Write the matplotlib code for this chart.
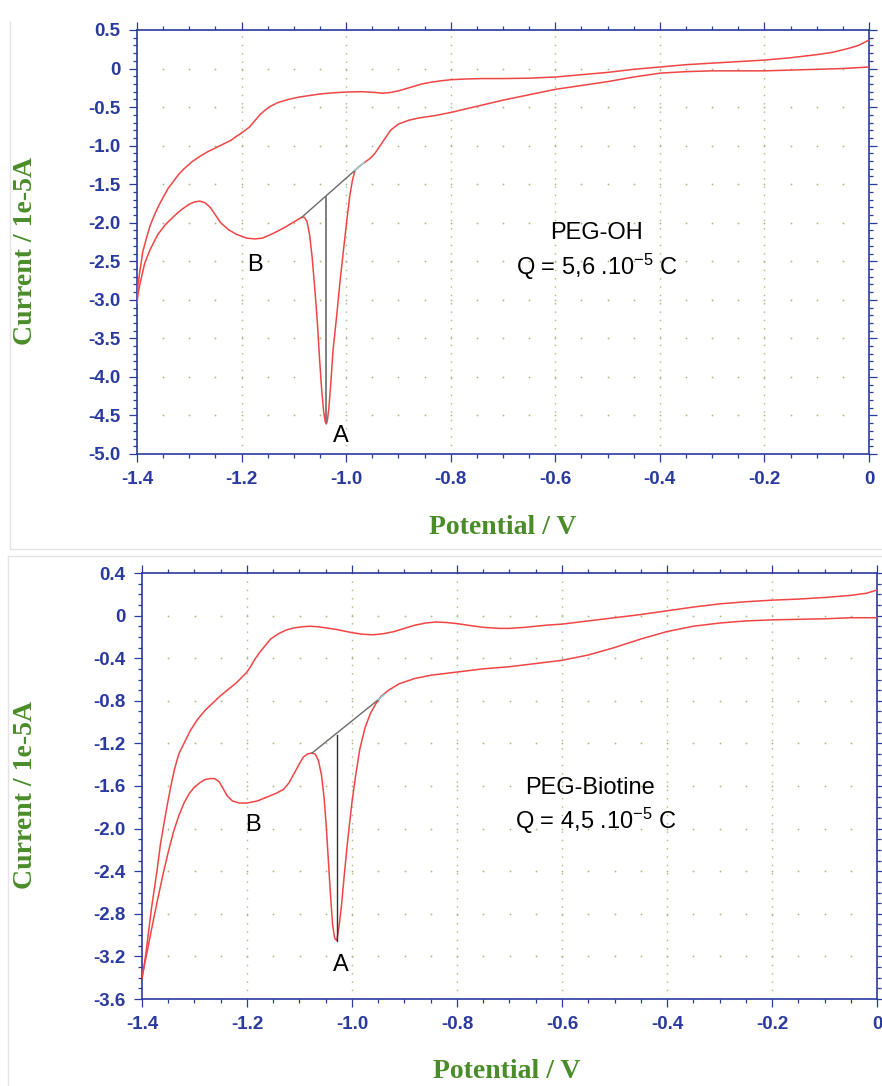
import matplotlib
matplotlib.use("Agg")
import matplotlib.pyplot as plt
from matplotlib.ticker import FixedLocator, FixedFormatter, MultipleLocator
from matplotlib.lines import Line2D
import numpy as np

plt.rcParams['axes.unicode_minus'] = False
plt.rcParams['mathtext.fontset'] = 'custom'
plt.rcParams['mathtext.rm'] = 'Liberation Sans'
plt.rcParams['mathtext.default'] = 'regular'

# ---------------- data : PEG-OH (top panel) ----------------
oh_cath_v = [0.0, -0.05, -0.10, -0.15, -0.20, -0.25, -0.30, -0.35, -0.40, -0.45,
             -0.50, -0.55, -0.60, -0.65, -0.70, -0.75, -0.80, -0.83, -0.86, -0.88,
             -0.90, -0.915, -0.93, -0.945, -0.955, -0.965, -0.975, -0.983, -0.988, -0.993,
             -0.998, -1.005, -1.012, -1.018, -1.025, -1.029, -1.033, -1.036, -1.038, -1.040,
             -1.043, -1.047, -1.051, -1.055, -1.060, -1.065, -1.070, -1.075, -1.080, -1.085,
             -1.095, -1.105, -1.12, -1.14, -1.16, -1.175, -1.19, -1.21, -1.225, -1.24,
             -1.25, -1.26, -1.27, -1.28, -1.29, -1.30, -1.315, -1.33, -1.345, -1.36,
             -1.375, -1.385, -1.393, -1.398, -1.40]
oh_cath_i = [0.02, 0.00, -0.01, -0.02, -0.03, -0.03, -0.03, -0.04, -0.06, -0.11,
             -0.17, -0.22, -0.27, -0.34, -0.41, -0.49, -0.57, -0.61, -0.64, -0.67,
             -0.72, -0.80, -0.95, -1.10, -1.17, -1.22, -1.27, -1.32, -1.45, -1.65,
             -1.93, -2.35, -2.78, -3.20, -3.65, -4.05, -4.40, -4.57, -4.61, -4.58,
             -4.45, -4.15, -3.75, -3.30, -2.85, -2.45, -2.15, -1.98, -1.93, -1.93,
             -1.97, -2.01, -2.07, -2.14, -2.20, -2.21, -2.20, -2.15, -2.09, -2.00,
             -1.90, -1.80, -1.74, -1.72, -1.73, -1.76, -1.83, -1.92, -2.02, -2.15,
             -2.35, -2.52, -2.75, -2.92, -3.04]
oh_anod_v = [-1.40, -1.398, -1.395, -1.389, -1.382, -1.375, -1.368, -1.36, -1.35, -1.34,
             -1.33, -1.32, -1.31, -1.295, -1.28, -1.265, -1.25, -1.235, -1.22, -1.21,
             -1.203, -1.195, -1.185, -1.175, -1.165, -1.155, -1.145, -1.13, -1.11, -1.09,
             -1.07, -1.05, -1.025, -1.00, -0.97, -0.945, -0.93, -0.915, -0.90, -0.885,
             -0.87, -0.855, -0.84, -0.82, -0.80, -0.77, -0.74, -0.70, -0.65, -0.60,
             -0.55, -0.50, -0.45, -0.40, -0.35, -0.30, -0.25, -0.20, -0.15, -0.10,
             -0.07, -0.04, -0.02, 0.0]
oh_anod_i = [-3.04, -2.80, -2.65, -2.38, -2.20, -2.04, -1.92, -1.80, -1.67, -1.55,
             -1.46, -1.37, -1.30, -1.21, -1.14, -1.08, -1.03, -0.98, -0.93, -0.88,
             -0.85, -0.81, -0.76, -0.68, -0.60, -0.54, -0.49, -0.44, -0.40, -0.37,
             -0.35, -0.33, -0.315, -0.305, -0.30, -0.31, -0.32, -0.31, -0.29, -0.26,
             -0.23, -0.20, -0.18, -0.16, -0.145, -0.135, -0.13, -0.13, -0.125, -0.11,
             -0.08, -0.05, -0.01, 0.02, 0.05, 0.07, 0.09, 0.11, 0.14, 0.18,
             0.21, 0.26, 0.30, 0.37]
oh_base_v = [-1.085, -0.983]
oh_base_i = [-1.93, -1.32]
oh_base_ext_v = [-0.983, -0.966]
oh_base_ext_i = [-1.32, -1.22]
oh_peak_v = [-1.038, -1.038]
oh_peak_i = [-1.66, -4.57]

# ---------------- data : PEG-Biotine (bottom panel) ----------------
bt_cath_v = [0.0, -0.05, -0.10, -0.15, -0.20, -0.25, -0.30, -0.35, -0.40, -0.45,
             -0.50, -0.55, -0.60, -0.65, -0.70, -0.75, -0.80, -0.85, -0.88, -0.91,
             -0.93, -0.945, -0.955, -0.965, -0.975, -0.985, -0.993, -1.000, -1.008, -1.015,
             -1.020, -1.025, -1.029, -1.033, -1.037, -1.041, -1.045, -1.049, -1.053, -1.058,
             -1.064, -1.070, -1.077, -1.085, -1.093, -1.10, -1.11, -1.12, -1.13, -1.145,
             -1.16, -1.18, -1.20, -1.215, -1.228, -1.238, -1.246, -1.253, -1.262, -1.27,
             -1.28, -1.29, -1.30, -1.31, -1.32, -1.33, -1.34, -1.35, -1.36, -1.37,
             -1.38, -1.39, -1.397, -1.40]
bt_cath_i = [-0.02, -0.02, -0.03, -0.035, -0.04, -0.05, -0.07, -0.10, -0.15, -0.22,
             -0.30, -0.37, -0.42, -0.45, -0.48, -0.50, -0.53, -0.56, -0.59, -0.64,
             -0.70, -0.76, -0.83, -0.92, -1.05, -1.25, -1.50, -1.75, -2.10, -2.45,
             -2.72, -2.93, -3.05, -3.03, -2.90, -2.62, -2.30, -1.98, -1.72, -1.50,
             -1.36, -1.30, -1.29, -1.30, -1.33, -1.39, -1.48, -1.57, -1.63, -1.67,
             -1.70, -1.74, -1.76, -1.76, -1.74, -1.69, -1.62, -1.56, -1.53, -1.53,
             -1.54, -1.57, -1.61, -1.67, -1.76, -1.88, -2.03, -2.22, -2.43, -2.66,
             -2.90, -3.15, -3.32, -3.40]
bt_anod_v = [-1.40, -1.397, -1.392, -1.387, -1.382, -1.376, -1.371, -1.365, -1.358, -1.352,
             -1.345, -1.338, -1.33, -1.32, -1.308, -1.295, -1.28, -1.265, -1.25, -1.235,
             -1.22, -1.21, -1.20, -1.192, -1.185, -1.175, -1.165, -1.155, -1.14, -1.125,
             -1.11, -1.095, -1.08, -1.065, -1.05, -1.03, -1.00, -0.98, -0.96, -0.94,
             -0.92, -0.90, -0.88, -0.86, -0.84, -0.82, -0.80, -0.78, -0.75, -0.72,
             -0.70, -0.67, -0.63, -0.60, -0.55, -0.50, -0.45, -0.40, -0.35, -0.30,
             -0.25, -0.20, -0.15, -0.10, -0.05, -0.02, 0.0]
bt_anod_i = [-3.40, -3.32, -3.15, -2.95, -2.75, -2.55, -2.38, -2.15, -1.95, -1.78,
             -1.60, -1.44, -1.30, -1.20, -1.08, -0.98, -0.89, -0.82, -0.75, -0.69,
             -0.63, -0.58, -0.53, -0.47, -0.41, -0.34, -0.28, -0.22, -0.17, -0.135,
             -0.115, -0.105, -0.10, -0.105, -0.115, -0.13, -0.16, -0.175, -0.18, -0.17,
             -0.15, -0.12, -0.09, -0.07, -0.06, -0.065, -0.075, -0.09, -0.11, -0.12,
             -0.12, -0.11, -0.09, -0.08, -0.05, -0.02, 0.01, 0.045, 0.08, 0.11,
             0.13, 0.145, 0.155, 0.17, 0.19, 0.21, 0.24]
bt_base_v = [-1.076, -0.950]
bt_base_i = [-1.29, -0.79]
bt_base_ext_v = [-0.950, -0.938]
bt_base_ext_i = [-0.79, -0.74]
bt_peak_v = [-1.029, -1.029]
bt_peak_i = [-1.12, -3.06]

# ticks / labels
x_ticks = [-1.4, -1.2, -1.0, -0.8, -0.6, -0.4, -0.2, 0.0]
x_ticklabels = ['-1.4', '-1.2', '-1.0', '-0.8', '-0.6', '-0.4', '-0.2', '0']
top_yticks = [0.5, 0.0, -0.5, -1.0, -1.5, -2.0, -2.5, -3.0, -3.5, -4.0, -4.5, -5.0]
top_yticklabels = ['0.5', '0', '-0.5', '-1.0', '-1.5', '-2.0', '-2.5', '-3.0', '-3.5', '-4.0', '-4.5', '-5.0']
bot_yticks = [0.4, 0.0, -0.4, -0.8, -1.2, -1.6, -2.0, -2.4, -2.8, -3.2, -3.6]
bot_yticklabels = ['0.4', '0', '-0.4', '-0.8', '-1.2', '-1.6', '-2.0', '-2.4', '-2.8', '-3.2', '-3.6']

top_name = 'PEG-OH'
top_q = r'Q = 5,6 .10$^{-5}$ C'
bot_name = 'PEG-Biotine'
bot_q = r'Q = 4,5 .10$^{-5}$ C'
xlabel = 'Potential / V'
ylabel = 'Current / 1e-5A'

# ---------------- styling ----------------
W, H = 882, 1086
fig = plt.figure(figsize=(W / 100, H / 100), dpi=100)
fig.patch.set_facecolor('white')

AXC = '#2a3a9e'
RED = '#f04545'
GRIDC = '#a7b987'
GREEN = '#4a8c2a'
GRAY = '#6a6a6a'
CYAN = '#7fd8d8'


def box(l, r, t, b):
    return [l / W, 1 - b / H, (r - l) / W, (b - t) / H]


def style_axes(ax, xlim, ylim, yticks, yticklabels, yminor):
    ax.set_xlim(*xlim)
    ax.set_ylim(*ylim)
    ax.xaxis.set_major_locator(FixedLocator(x_ticks))
    ax.xaxis.set_major_formatter(FixedFormatter(x_ticklabels))
    ax.xaxis.set_minor_locator(MultipleLocator(0.05))
    ax.yaxis.set_major_locator(FixedLocator(yticks))
    ax.yaxis.set_major_formatter(FixedFormatter(yticklabels))
    ax.yaxis.set_minor_locator(MultipleLocator(yminor))
    for s in ax.spines.values():
        s.set_color(AXC)
        s.set_linewidth(1.2)
    ax.tick_params(which='both', direction='out', top=True, right=True,
                   labeltop=False, labelright=False, color=AXC, width=0.9)
    ax.tick_params(which='major', length=6, pad=6)
    ax.tick_params(which='minor', length=3)
    for lab in ax.get_xticklabels() + ax.get_yticklabels():
        lab.set_fontfamily('Liberation Sans')
        lab.set_fontweight('bold')
        lab.set_fontsize(13.5)
        lab.set_color(AXC)
    # grid: dotted vertical lines at major x, dot rows at major y
    for xv in x_ticks[1:-1]:
        ax.axvline(xv, color=GRIDC, lw=1.0, ls=(0, (1, 5)), zorder=0)
    xm = np.arange(-1.4, 0.0001, 0.05)[1:-1]
    for yv in yticks[1:-1]:
        ax.plot(xm, np.full_like(xm, yv), ls='none', marker='o', ms=1.3,
                mec='none', mfc=GRIDC, zorder=0)


# ---- top panel ----
ax1 = fig.add_axes(box(137, 869, 30, 454))
style_axes(ax1, (-1.4, 0.0), (-5.0, 0.5), top_yticks, top_yticklabels, 0.1)
ax1.plot(oh_cath_v, oh_cath_i, color=RED, lw=1.1, zorder=3)
ax1.plot(oh_anod_v, oh_anod_i, color=RED, lw=1.1, zorder=3)
ax1.plot(oh_base_v, oh_base_i, color=GRAY, lw=1.0, zorder=4)
ax1.plot(oh_base_ext_v, oh_base_ext_i, color=CYAN, lw=1.0, zorder=4)
ax1.plot(oh_peak_v, oh_peak_i, color=GRAY, lw=1.2, zorder=4)
ax1.text(-1.174, -2.55, 'B', fontsize=17, family='Liberation Sans', ha='center', va='center')
ax1.text(-1.010, -4.77, 'A', fontsize=17, family='Liberation Sans', ha='center', va='center')
ax1.text(-0.522, -2.13, top_name, fontsize=17, family='Liberation Sans', ha='center', va='center')
ax1.text(-0.520, -2.57, top_q, fontsize=17, family='Liberation Sans', ha='center', va='center')

# ---- bottom panel ----
ax2 = fig.add_axes(box(142, 877, 573, 999))
style_axes(ax2, (-1.4, 0.0), (-3.6, 0.4), bot_yticks, bot_yticklabels, 0.1)
ax2.plot(bt_cath_v, bt_cath_i, color=RED, lw=1.1, zorder=3)
ax2.plot(bt_anod_v, bt_anod_i, color=RED, lw=1.1, zorder=3)
ax2.plot(bt_base_v, bt_base_i, color=GRAY, lw=1.0, zorder=4)
ax2.plot(bt_base_ext_v, bt_base_ext_i, color=CYAN, lw=1.0, zorder=4)
ax2.plot(bt_peak_v, bt_peak_i, color='#303030', lw=1.0, zorder=4)
ax2.text(-1.188, -1.97, 'B', fontsize=17, family='Liberation Sans', ha='center', va='center')
ax2.text(-1.022, -3.28, 'A', fontsize=17, family='Liberation Sans', ha='center', va='center')
ax2.text(-0.546, -1.62, bot_name, fontsize=17, family='Liberation Sans', ha='center', va='center')
ax2.text(-0.535, -1.93, bot_q, fontsize=17, family='Liberation Sans', ha='center', va='center')

# axis titles
lab_kw = dict(fontsize=20, fontweight='bold', family='Liberation Serif', color=GREEN)
fig.text(503 / W, 1 - 528 / H, xlabel, ha='center', va='center', **lab_kw)
fig.text(507 / W, 1 - 1072 / H, xlabel, ha='center', va='center', **lab_kw)
fig.text(26 / W, 1 - 251 / H, ylabel, ha='center', va='center', rotation=90, **lab_kw)
fig.text(26 / W, 1 - 795 / H, ylabel, ha='center', va='center', rotation=90, **lab_kw)

# faint panel frames
FR = '#e4e4e4'
fig.add_artist(Line2D([10 / W, 10 / W], [1 - 22 / H, 1 - 549 / H], color=FR, lw=1))
fig.add_artist(Line2D([10 / W, 1.0], [1 - 549 / H, 1 - 549 / H], color=FR, lw=1))
fig.add_artist(Line2D([8 / W, 8 / W], [1 - 556 / H, 0.0], color=FR, lw=1))
fig.add_artist(Line2D([8 / W, 1.0], [1 - 556 / H, 1 - 556 / H], color=FR, lw=1))

fig.savefig('out.png', dpi=100, facecolor='white')
